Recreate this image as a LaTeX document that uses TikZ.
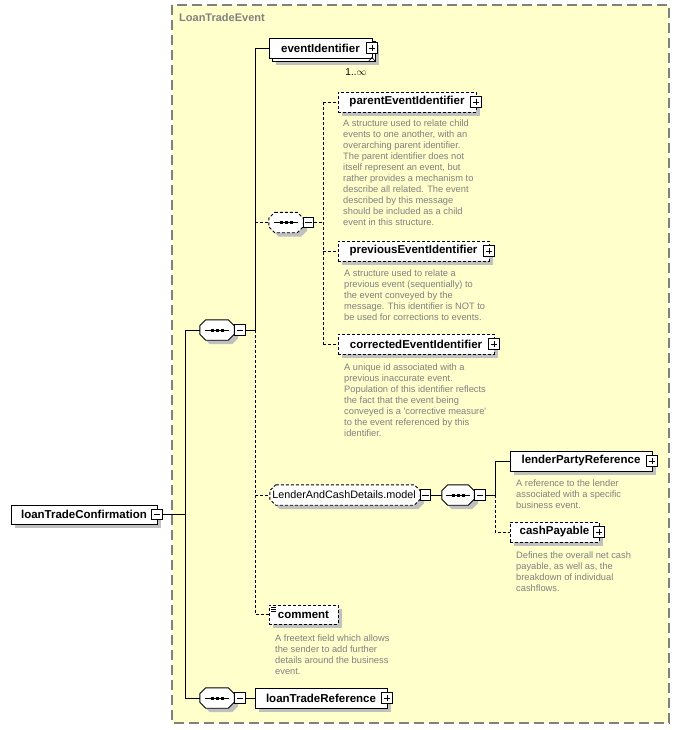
\documentclass[tikz,border=0pt]{standalone}
\usepackage{fontspec}
\setmainfont{Liberation Sans}
\newfontfamily\descfont{Liberation Sans}
\usetikzlibrary{shadows}
\definecolor{bgyellow}{RGB}{255,255,204}
\definecolor{framegray}{RGB}{128,128,128}
\definecolor{shadowgray}{RGB}{192,192,192}
\definecolor{descgray}{RGB}{128,128,128}
% octagon outline of a compositor node: #1 node, #2 x offset, #3 downward offset
\newcommand\octpath[3]{([shift={(6pt+#2,-#3)}]#1.north west) -- ([shift={(-6pt+#2,-#3)}]#1.north east) -- ([shift={(#2,-6pt-#3)}]#1.north east) -- ([shift={(#2,6pt-#3)}]#1.south east) -- ([shift={(-6pt+#2,-#3)}]#1.south east) -- ([shift={(6pt+#2,-#3)}]#1.south west) -- ([shift={(#2,6pt-#3)}]#1.south west) -- ([shift={(#2,-6pt-#3)}]#1.north west) -- cycle}
\newcommand\drawcomp[2]{%
  \fill[shadowgray] \octpath{#1}{4pt}{4pt};
  \draw[line width=0.9pt, fill=white, #2] \octpath{#1}{0pt}{0pt};
  \draw[line width=0.9pt] ([xshift=-12pt]#1.center) -- ([xshift=12pt]#1.center);
  \foreach \dx in {-5,0,5} \fill ([xshift=\dx pt]#1.center) +(-1.5pt,-1.5pt) rectangle +(1.5pt,1.5pt);
}
\tikzset{
  shadowbox/.style={drop shadow={shadow xshift=4pt, shadow yshift=-4pt, fill=shadowgray, opacity=1}},
  elemns/.style={draw=black, line width=0.9pt, fill=white, minimum height=20pt, inner sep=0pt, font=\bfseries\fontsize{11.5}{13}\selectfont},
  elem/.style={elemns, shadowbox},
  optelem/.style={elem, dash pattern=on 3pt off 2pt},
  btn/.style={draw=black, line width=0.9pt, fill=white, minimum size=10.5pt, inner sep=0pt},
  plusbtn/.style={btn, path picture={\draw[line width=0.9pt] ([xshift=2pt]path picture bounding box.west) -- ([xshift=-2pt]path picture bounding box.east) ([yshift=-2pt]path picture bounding box.north) -- ([yshift=2pt]path picture bounding box.south);}},
  minusbtn/.style={btn, path picture={\draw[line width=0.9pt] ([xshift=2pt]path picture bounding box.west) -- ([xshift=-2pt]path picture bounding box.east);}},
  desc/.style={anchor=north west, inner sep=0pt, align=left, text=descgray, font=\descfont\fontsize{9.3}{11}\selectfont},
  conn/.style={draw=black, line width=0.9pt},
  optconn/.style={conn, dash pattern=on 3pt off 2pt},
  comp/.style={minimum width=34pt, minimum height=20pt, inner sep=0pt},
}
\begin{document}
\begin{tikzpicture}[x=1pt, y=-1pt]
\useasboundingbox[fill=white] (0,0) rectangle (680,730);
% container
\draw[framegray, line width=1.2pt, dash pattern=on 10pt off 5pt, fill=bgyellow] (172,5) rectangle (669,723);
\node[anchor=west, inner sep=0pt, text=framegray, font=\bfseries\fontsize{11}{13}\selectfont] (title) at (179,18) {LoanTradeEvent};

% root
\node[elem, minimum width=146pt, minimum height=19pt] (ltc) at (84,514.5) {loanTradeConfirmation};
\node[minusbtn] (ltcbtn) at (157,514.5) {};

% compositors
\node[comp] (seq1) at (217,330) {};
\drawcomp{seq1}{}
\node[minusbtn] (seq1btn) at (240,330) {};
\node[comp] (seq4) at (217,698) {};
\drawcomp{seq4}{}
\node[minusbtn] (seq4btn) at (240,698) {};
\node[comp] (seq2) at (286,222.5) {};
\drawcomp{seq2}{dash pattern=on 3pt off 2pt}
\node[minusbtn] (seq2btn) at (308.5,222.5) {};
\node[comp, minimum width=32pt] (seq3) at (458,495) {};
\drawcomp{seq3}{}
\node[minusbtn] (seq3btn) at (480,495) {};

% eventIdentifier (multiple)
\node[elem, minimum width=103pt] (evtback) at (323.5,51) {};
\node[elemns, minimum width=103pt] (evt) at (320.5,48) {eventIdentifier};
\node[plusbtn] (evtbtn) at (372,48) {};
\draw[line width=0.6pt] ([xshift=-7pt]evtback.south east) -- ++(3.5pt,4pt) -- ++(3.5pt,-4pt);
\node[inner sep=0pt, font=\fontsize{10}{12}\selectfont] (mult) at (356,72) {1..$\infty$};

% choice children
\node[optelem, minimum width=138pt] (parent) at (407,102) {parentEventIdentifier};
\node[plusbtn] (parentbtn) at (476,102) {};
\node[desc] (parentdesc) at (343,119.5) {A structure used to relate child\\events to one another, with an\\overarching parent identifier.\\The parent identifier does not\\itself represent an event, but\\rather provides a mechanism to\\describe all related. The event\\described by this message\\should be included as a child\\event in this structure.};

\node[optelem, minimum width=151pt] (previous) at (413.5,251) {previousEventIdentifier};
\node[plusbtn] (previousbtn) at (489,251) {};
\node[desc] (previousdesc) at (344,269.5) {A structure used to relate a\\previous event (sequentially) to\\the event conveyed by the\\message. This identifier is NOT to\\be used for corrections to events.};

\node[optelem, minimum width=156pt] (corrected) at (416,344) {correctedEventIdentifier};
\node[plusbtn] (correctedbtn) at (494,344) {};
\node[desc] (correcteddesc) at (344,363.5) {A unique id associated with a\\previous inaccurate event.\\Population of this identifier reflects\\the fact that the event being\\conveyed is a 'corrective measure'\\to the event referenced by this\\identifier.};

% group
\node[comp, minimum width=150pt] (lacd) at (345,495) {};
\fill[shadowgray] \octpath{lacd}{4pt}{4pt};
\draw[line width=0.9pt, fill=white, dash pattern=on 3pt off 2pt] \octpath{lacd}{0pt}{0pt};
\node[inner sep=0pt, font=\fontsize{10.8}{13}\selectfont] (lacdtext) at (344,495) {LenderAndCashDetails.model};
\node[minusbtn] (lacdbtn) at (425.5,495) {};

\node[elem, minimum width=142pt] (lender) at (581,461) {lenderPartyReference};
\node[plusbtn] (lenderbtn) at (652,461) {};
\node[desc] (lenderdesc) at (516,479.5) {A reference to the lender\\associated with a specific\\business event.};

\node[optelem, minimum width=89pt] (cash) at (554.5,532) {cashPayable};
\node[plusbtn] (cashbtn) at (599,532) {};
\node[desc] (cashdesc) at (516,551.5) {Defines the overall net cash\\payable, as well as, the\\breakdown of individual\\cashflows.};

% comment
\node[optelem, minimum width=69pt, minimum height=19pt] (comment) at (303.5,614.5) {comment};
\foreach \dy in {3,5,7} \draw[line width=0.6pt] ([shift={(2.5pt,-\dy pt)}]comment.north west) -- ++(5pt,0);
\node[desc] (commentdesc) at (275,634.5) {A freetext field which allows\\the sender to add further\\details around the business\\event.};

% loanTradeReference
\node[elem, minimum width=132pt] (ltr) at (321,698) {loanTradeReference};
\node[plusbtn] (ltrbtn) at (387,698) {};

% connector columns
\coordinate (trunk) at (185,0);
\coordinate (spine) at (255,0);
\coordinate (spinetwo) at (323,0);
\coordinate (spinethree) at (495,0);

% connectors
\draw[conn] (ltcbtn.east) -- (ltcbtn.east -| trunk);
\draw[conn] (seq1.west -| trunk) -- (seq4.west -| trunk);
\draw[conn] (seq1.west -| trunk) -- (seq1.west);
\draw[conn] (seq4.west -| trunk) -- (seq4.west);
\draw[conn] (seq4btn.east) -- (ltr.west);
\draw[conn] (seq1btn.east) -- (seq1btn.east -| spine);
\draw[conn] (seq1btn.east -| spine) |- (evt.west);
\draw[optconn] (seq1btn.east -| spine) |- (comment.west);
\draw[optconn] (seq2.west -| spine) -- (seq2.west);
\draw[optconn] (lacd.west -| spine) -- (lacd.west);
\draw[optconn] (seq2btn.east) -- (seq2btn.east -| spinetwo);
\draw[optconn] (parent.west -| spinetwo) -- (corrected.west -| spinetwo);
\draw[optconn] (parent.west -| spinetwo) -- (parent.west);
\draw[optconn] (previous.west -| spinetwo) -- (previous.west);
\draw[optconn] (corrected.west -| spinetwo) -- (corrected.west);
\draw[conn] (lacdbtn.east) -- (seq3.west);
\draw[conn] (seq3btn.east) -- (seq3btn.east -| spinethree);
\draw[conn] (seq3btn.east -| spinethree) |- (lender.west);
\draw[optconn] (seq3btn.east -| spinethree) |- (cash.west);
\end{tikzpicture}
\end{document}
